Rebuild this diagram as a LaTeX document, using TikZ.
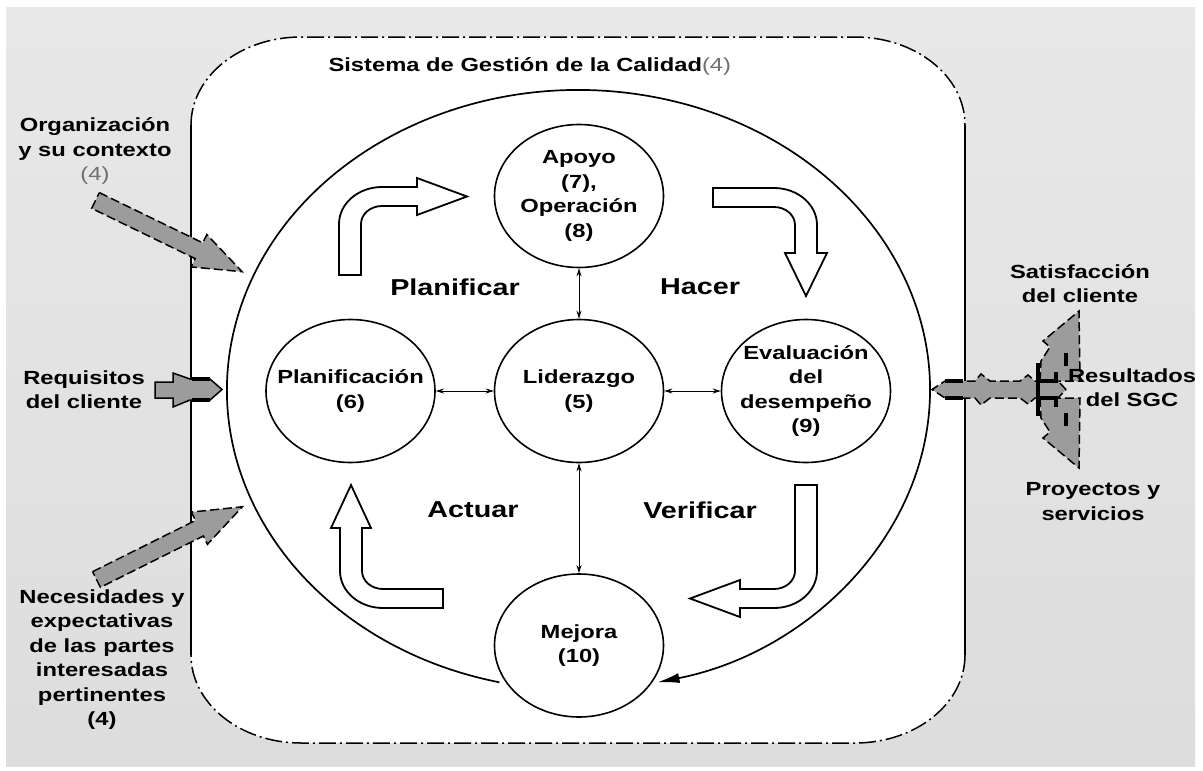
\documentclass[tikz,border=0pt]{standalone}
\usepackage{fontspec}
\setmainfont{Liberation Sans}[FakeStretch=1.25]
\usepackage{xcolor}
\usepackage{tikz}
\usetikzlibrary{shapes.geometric,arrows.meta,positioning,calc}

\definecolor{agray}{HTML}{9C9C9C}
\definecolor{tgray}{HTML}{707070}

\newcommand{\lblfont}{\fontsize{19}{24.5}\selectfont\bfseries}
\newcommand{\phasefont}{\fontsize{23}{27}\selectfont\bfseries}

\tikzset{
    proc/.style={ellipse, draw, line width=1.6pt, fill=white, minimum width=169pt, minimum height=143pt, inner sep=0pt},
    lbl/.style={align=center, font=\lblfont},
    phase/.style={font=\phasefont},
    cyclearr/.style={draw, line width=1.8pt, fill=white, line join=miter},
    twoway/.style={{Stealth[length=8pt,width=5pt]}-{Stealth[length=8pt,width=5pt]}, line width=0.9pt},
    grayarr/.style={draw, fill=agray, line width=1.5pt, dash pattern=on 9pt off 4pt},
    qmsline/.style={line width=1.5pt, dash pattern=on 17pt off 4pt on 2pt off 4pt},
    thickmark/.style={line width=3.5pt},
    garrow/.pic={\draw [grayarr] (0,-8.75) -- (115,-8.75) -- (115,-18) -- (163,0) -- (115,18) -- (115,8.75) -- (0,8.75) -- cycle;}
}

\begin{document}
\begin{tikzpicture}[x=1pt,y=-1pt]
    \useasboundingbox (0,0) rectangle (1203,771);
    % Background
    \shade [top color=gray!18, bottom color=gray!27] (6,7) rectangle (1195,766);

    % Sistema de Gestion frame
    \fill [white] (191,125) arc[start angle=180,end angle=270,x radius=110,y radius=88] -- (855,37) arc[start angle=270,end angle=360,x radius=110,y radius=88] -- (965,655) arc[start angle=0,end angle=90,x radius=110,y radius=88] -- (301,743) arc[start angle=90,end angle=180,x radius=110,y radius=88] -- cycle;
    \draw [qmsline] (191,125) arc[start angle=180,end angle=270,x radius=110,y radius=88] -- (855,37) arc[start angle=270,end angle=360,x radius=110,y radius=88];
    \draw [qmsline] (965,655) arc[start angle=0,end angle=90,x radius=110,y radius=88] -- (301,743) arc[start angle=90,end angle=180,x radius=110,y radius=88];
    \draw [line width=1.5pt] (191,125) -- (191,655) (965,125) -- (965,655);
    \node [lbl, anchor=base west] (title) at (325,71) {Sistema de Gestión de la Calidad{\mdseries\color{tgray}(4)}};

    % PDCA cycle
    \coordinate (cycstart) at (499.4,682.3);
    \draw [line width=1.7pt, -{Latex[length=22pt,width=10pt]}] (cycstart) arc[start angle=103,end angle=437,x radius=351.5,y radius=300];

    % Processes
    \node [proc] (apoyo) at (579,196) {};
    \node [proc] (lider) at (579,391) {};
    \node [proc] (plan) at (350.5,391) {};
    \node [proc] (eval) at (806,391) {};
    \node [proc] (mejora) at (579,645.5) {};
    \node [lbl] (apoyotext) at (apoyo) {Apoyo\\(7),\\Operación\\(8)};
    \node [lbl] (lidertext) at (lider) {Liderazgo\\(5)};
    \node [lbl] (plantext) at (plan) {Planificación\\(6)};
    \node [lbl] (evaltext) at (eval) {Evaluación\\del\\desempeño\\(9)};
    \node [lbl] (mejoratext) at (mejora) {Mejora\\(10)};

    \draw [twoway] (apoyo) -- (lider);
    \draw [twoway] (lider) -- (mejora);
    \draw [twoway] (plan) -- (lider);
    \draw [twoway] (lider) -- (eval);

    % Bent arrows
    \draw [cyclearr] (339,275) -- (339,224) arc[start angle=180,end angle=270,x radius=43,y radius=37] -- (417,187) -- (417,178) -- (467,196.5) -- (417,215) -- (417,206) -- (382,206) arc[start angle=270,end angle=180,x radius=21,y radius=18] -- (361,275) -- cycle;
    \draw [cyclearr] (713,188) -- (774,188) arc[start angle=270,end angle=360,x radius=43,y radius=37] -- (817,253) -- (827,253) -- (806,296) -- (785,253) -- (795,253) -- (795,225) arc[start angle=0,end angle=-90,x radius=21,y radius=18] -- (713,207) -- cycle;
    \draw [cyclearr] (795,485) -- (817,485) -- (817,571) arc[start angle=0,end angle=90,x radius=43,y radius=37] -- (740,608) -- (740,617) -- (690,598.5) -- (740,580) -- (740,589) -- (774,589) arc[start angle=90,end angle=0,x radius=21,y radius=18] -- cycle;
    \draw [cyclearr] (443,589) -- (383,589) arc[start angle=90,end angle=180,x radius=21,y radius=18] -- (362,528) -- (371,528) -- (351,485) -- (331,528) -- (340,528) -- (340,571) arc[start angle=180,end angle=90,x radius=43,y radius=37] -- (443,608) -- cycle;

    \node [phase] (planificar) at (455,287) {Planificar};
    \node [phase] (hacer) at (700,287) {Hacer};
    \node [phase] (actuar) at (473,510) {Actuar};
    \node [phase] (verificar) at (700,510) {Verificar};

    % Inputs
    \pic [rotate=-25.9] (orgarrow) at (95.5,200.5) {garrow};
    \pic [rotate=26.5] (partesarrow) at (96.5,579.5) {garrow};
    \draw [line width=1.5pt, fill=agray] (155,382) -- (173,382) -- (173,373) -- (190,379) -- (210,379) -- (222,389.5) -- (210,400) -- (190,400) -- (173,407) -- (173,398) -- (155,398) -- cycle;
    \draw [thickmark] (192,379) -- (210,379) (192,400) -- (210,400);
    \node [lbl] (contexto) at (95,151) {Organización\\y su contexto\\{\mdseries\color{tgray}(4)}};
    \node [lbl] (requisitos) at (84,389.5) {Requisitos\\del cliente};
    \node [lbl] (partes) at (102,659.5) {Necesidades y\\expectativas\\de las partes\\interesadas\\pertinentes\\(4)};

    % Outputs
    \draw [grayarr] (1040,381) -- (1041,361) -- (1050,347) -- (1043,341) -- (1079,311) -- (1080,381) -- cycle;
    \draw [grayarr] (1040,398) -- (1041,418) -- (1050,432) -- (1043,438) -- (1079,468) -- (1080,398) -- cycle;
    \draw [grayarr] (1066,389.5) -- (1058,381) -- (1035,381) -- (1028,375) -- (1020,381) -- (990,381) -- (981,374) -- (975,381) -- (945,381) -- (932,389.5) -- (945,398) -- (975,398) -- (981,405) -- (990,398) -- (1020,398) -- (1028,404) -- (1035,398) -- (1058,398) -- cycle;
    \draw [thickmark] (945,381) -- (963,381) (945,398) -- (963,398) (1038,363) -- (1038,416) (1038,381) -- (1057,381) (1038,398) -- (1057,398) (1056,372) -- (1056,383) (1056,396) -- (1056,407) (1066,353) -- (1066,366) (1066,413) -- (1066,426);
    \node [lbl] (satisf) at (1080,283.5) {Satisfacción\\del cliente};
    \node [lbl] (result) at (1132,387.5) {Resultados\\del SGC};
    \node [lbl] (proyectos) at (1093,501.5) {Proyectos y\\servicios};
\end{tikzpicture}
\end{document}
